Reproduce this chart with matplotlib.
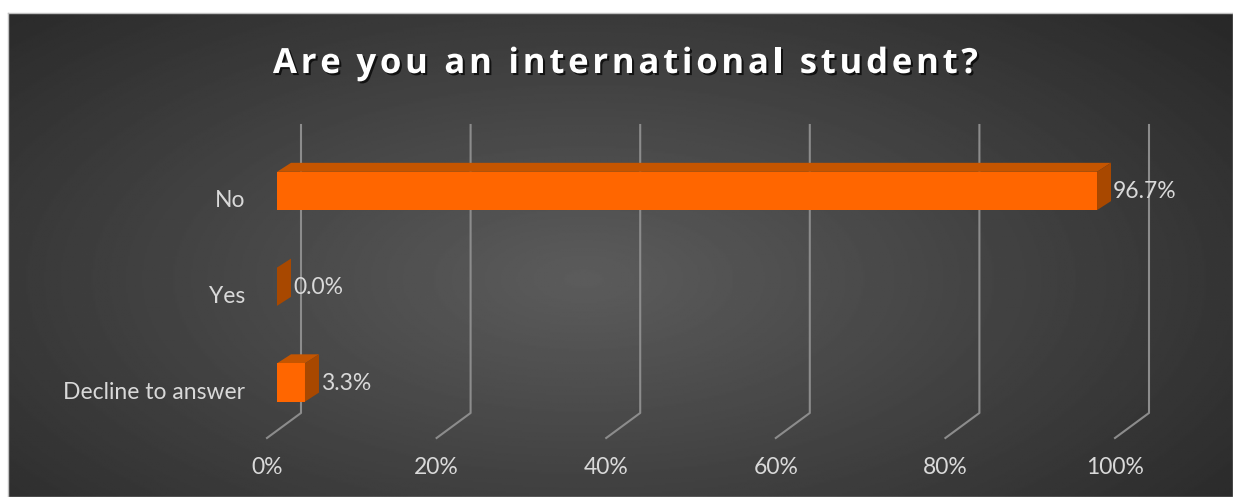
import numpy as np
import matplotlib
matplotlib.use('Agg')
import matplotlib.pyplot as plt
from matplotlib.patches import Polygon
from matplotlib.lines import Line2D
from matplotlib.transforms import ScaledTranslation, IdentityTransform, blended_transform_factory
import matplotlib.patheffects as pe

categories = ['Decline to answer', 'Yes', 'No']
values = [0.033, 0.0, 0.967]
ticks = [0, 0.2, 0.4, 0.6, 0.8, 1.0]
tick_labels = ['0%', '20%', '40%', '60%', '80%', '100%']
title = 'Are you an international student?'

W, H, DPI = 1233, 497, 100
fig = plt.figure(figsize=(W / DPI, H / DPI), dpi=DPI)
fig.patch.set_facecolor('white')
LBL = dict(fontsize=16.5, color='#d9d9d9', family='Lato')

# dark gradient panel
bg = fig.add_axes([8 / W, 0, (W - 8) / W, (H - 13) / H])
yy, xx = np.mgrid[0:1:300j, 0:1:700j]
d = np.sqrt(((xx - 0.47) / 0.75) ** 2 + ((yy - 0.55) / 0.9) ** 2)
shade = np.clip(0.36 - 0.22 * d, 0, 1)
bg.imshow(shade, cmap='gray', vmin=0, vmax=1, aspect='auto', extent=[0, 1, 0, 1])
bg.set_xticks([])
bg.set_yticks([])
for s in bg.spines.values():
    s.set_color('#bfbfbf')
    s.set_linewidth(1)

# main axes
ax = fig.add_axes([277 / W, (H - 438) / H, 848 / W, (438 - 125) / H])
ax.set_facecolor('none')
ax.set_xlim(0, 1)
ax.set_ylim(-0.58, 2.689)
for s in ax.spines.values():
    s.set_visible(False)

px = lambda x, y: ScaledTranslation(x / DPI, y / DPI, fig.dpi_scale_trans)

# 3d-style gridlines: back wall + floor edge
trans = blended_transform_factory(ax.transData, ax.transAxes)
for t in ticks:
    top = trans.transform((t, 1.0)) + [24, 0]
    mid = trans.transform((t, 0.08)) + [24, 0]
    bot = trans.transform((t, 0.0)) + [-10, 0]
    ax.add_line(Line2D([top[0], mid[0], bot[0]], [top[1], mid[1], bot[1]],
                       transform=IdentityTransform(), color='#8c8c8c', lw=1.5,
                       zorder=1, clip_on=False))

# bars
h = 0.4
pos = np.arange(len(categories))
ax.barh(pos, values, height=h, color='#ff6600', zorder=3)
dx, dy = 14, 9
for i, v in zip(pos, values):
    p_tl, p_tr, p_br = ax.transData.transform([(0, i + h / 2), (v, i + h / 2), (v, i - h / 2)])
    off = np.array([dx, dy])
    top_face = [p_tl, p_tr, p_tr + off, p_tl + off]
    side_face = [p_br, p_tr, p_tr + off, p_br + off]
    ax.add_patch(Polygon(top_face, closed=True, transform=IdentityTransform(),
                         facecolor='#c55500', edgecolor='none', zorder=2, clip_on=False))
    ax.add_patch(Polygon(side_face, closed=True, transform=IdentityTransform(),
                         facecolor='#a84800', edgecolor='none', zorder=4, clip_on=False))
    ax.text(v, i, f'{v * 100:.1f}%', transform=ax.transData + px(16, -1),
            ha='left', va='center', zorder=5, **LBL)

# ticks
ax.set_xticks(ticks, tick_labels)
ax.set_yticks(pos, categories)
ax.tick_params(axis='x', length=0, pad=14, labelsize=LBL['fontsize'], labelcolor=LBL['color'])
ax.tick_params(axis='y', length=0, pad=23, labelsize=LBL['fontsize'], labelcolor=LBL['color'])
for lab in ax.get_xticklabels():
    lab.set_family('Lato')
    lab.set_transform(lab.get_transform() + px(-10, 0))
for lab in ax.get_yticklabels():
    lab.set_family('Lato')
    lab.set_transform(lab.get_transform() + px(0, -8))

# title with letter spacing, drawn char by char
renderer = fig.canvas.get_renderer()
tkw = dict(fontsize=25, fontweight='bold', family='Open Sans')


def text_width(s):
    t = fig.text(0, 0, s, **tkw)
    w = t.get_window_extent(renderer).width
    t.remove()
    return w


bar_w = text_width('|')
full_w = text_width(title)
x_left, x_right = 273, 978
spacing = (x_right - x_left - full_w) / (len(title) - 1)
shadow = [pe.SimplePatchShadow(offset=(1.5, -1.5), shadow_rgbFace='black', alpha=0.7), pe.Normal()]
for k, ch in enumerate(title):
    if ch == ' ':
        continue
    x0 = text_width(title[:k] + '|') - bar_w + k * spacing + x_left
    fig.text(x0 / W, (H - 73) / H, ch, ha='left', va='baseline', color='white',
             path_effects=shadow, **tkw)

fig.savefig('out.png', dpi=DPI)
